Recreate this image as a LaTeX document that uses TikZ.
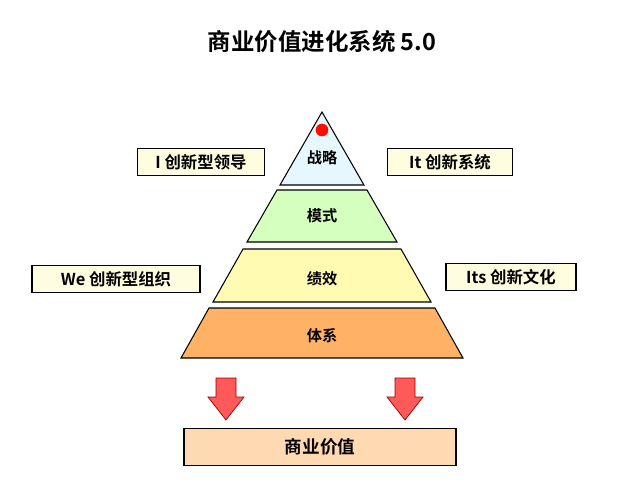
\documentclass[tikz,border=0pt]{standalone}
\usepackage{fontspec}
\setmainfont{Noto Sans CJK SC}[BoldFont={Noto Sans CJK SC Bold}]
\begin{document}
\begin{tikzpicture}[
  x=0.03cm, y=-0.03cm,
  font=\bfseries\fontsize{13}{15}\selectfont,
  layer/.style = {draw, line width=0.9pt},
  tag/.style = {draw, line width=1.2pt, fill=yellow!12, inner sep=0pt, minimum height=0.8cm, font=\bfseries\fontsize{14}{16}\selectfont},
  downarrow/.style = {draw=red!60!black, fill=red!65, line width=0.6pt}
  ]
 \useasboundingbox (0,0) rectangle (640,497);
 % Title
 \node[font=\bfseries\fontsize{20}{24}\selectfont] (title) at (322,42) {商业价值进化系统 5.0};
 % Pyramid layers
 \draw[layer, fill=cyan!10] (322,112) -- (364,185) -- (280,185) -- cycle;
 \draw[layer, fill=green!55!lime!25] (277,190) -- (367,190) -- (397,242) -- (247,242) -- cycle;
 \draw[layer, fill=yellow!30] (243,249) -- (401,249) -- (431,302) -- (213,302) -- cycle;
 \draw[layer, fill=orange!60] (209,308) -- (435,308) -- (463,358) -- (181,358) -- cycle;
 \fill[red!90!orange] (322,130) circle (0.19cm);
 \node (strategy) at (322,158) {战略};
 \node (model) at (322,216) {模式};
 \node (perf) at (322,279) {绩效};
 \node (system) at (322,336) {体系};
 % Side tags
 \node[tag, minimum width=3.8cm] (leader) at (201,162) {I 创新型领导};
 \node[tag, minimum width=3.75cm] (itsys) at (450,162) {It 创新系统};
 \node[tag, minimum width=5.05cm] (org) at (116,279) {We 创新型组织};
 \node[tag, minimum width=3.9cm] (culture) at (511,277) {Its 创新文化};
 % Arrows
 \foreach \ax in {226,405}
  \draw[downarrow] (\ax-10,378) -- (\ax+10,378) -- (\ax+10,397) -- (\ax+18,397)
   -- (\ax,420) -- (\ax-18,397) -- (\ax-10,397) -- cycle;
 % Value box
 \node[draw, line width=1.2pt, fill=orange!30, minimum width=8.15cm, minimum height=1.1cm, font=\bfseries\fontsize{15}{18}\selectfont] (value) at (320,447) {商业价值};
\end{tikzpicture}
\end{document}
